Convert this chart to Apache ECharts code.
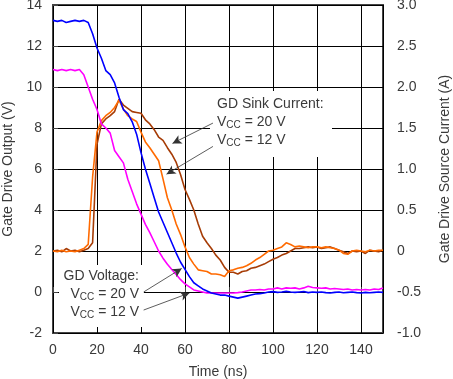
<!DOCTYPE html>
<html>
<head>
<meta charset="utf-8">
<script src="https://cdn.jsdelivr.net/npm/echarts@6/dist/echarts.min.js"></script>
<style>
html,body{margin:0;padding:0;background:#fff;}
#chart{width:453px;height:379px;}
</style>
</head>
<body>
<div id="chart"></div>
<script>
// Time axis (ns), shared by all traces
var timeNs = [0,2,4,6,8,10,12,14,16,18,20,22,24,26,28,30,32,34,36,38,40,42,44,46,48,50,52,54,56,58,60,62,64,66,68,70,72,74,76,78,80,82,84,86,88,90,92,94,96,98,100,102,104,106,108,110,112,114,116,118,120,122,124,126,128,130,132,134,136,138,140,142,144,146,148,150];

// GD Voltage, VCC = 20 V (V, left axis)
var gdV20 = [13.25,13.2,13.25,13.15,13.2,13.25,13.2,13.25,13.15,12.6,11.9,11.4,10.8,10.6,10.2,9.5,8.9,8.7,8.3,7.7,6.8,6.0,5.3,4.6,3.9,3.4,2.9,2.4,1.9,1.45,1.1,0.75,0.45,0.3,0.15,0.05,-0.05,-0.1,-0.15,-0.15,-0.2,-0.25,-0.3,-0.25,-0.2,-0.15,-0.1,-0.08,-0.05,0,0.02,-0.02,0,0.03,0,-0.02,0,0.02,-0.03,0,-0.02,0,-0.03,-0.05,-0.02,0,-0.04,-0.02,0,-0.03,-0.05,-0.02,-0.04,-0.02,0,-0.02];

// GD Voltage, VCC = 12 V (V, left axis)
var gdV12 = [10.85,10.8,10.85,10.8,10.85,10.8,10.85,10.6,10.0,9.4,8.9,8.2,8.0,7.75,6.9,6.6,6.3,5.5,4.9,4.3,3.8,3.3,2.9,2.45,2.0,1.65,1.35,1.1,0.85,0.6,0.4,0.25,0.1,0.05,0,-0.05,-0.05,-0.05,-0.05,-0.05,-0.05,-0.05,-0.03,0,0.05,0.1,0.1,0.12,0.1,0.15,0.15,0.2,0.15,0.2,0.18,0.2,0.15,0.2,0.28,0.22,0.2,0.18,0.2,0.15,0.17,0.15,0.12,0.15,0.1,0.12,0.1,0.12,0.1,0.15,0.12,0.2];

// GD Sink Current, VCC = 20 V (A, right axis)
var sinkI20 = [0,0.01,-0.01,0.03,0,0.01,-0.01,0.01,0.03,0.1,1.3,1.55,1.61,1.65,1.7,1.85,1.78,1.74,1.7,1.69,1.68,1.6,1.55,1.48,1.39,1.35,1.26,1.18,1.08,0.93,0.75,0.63,0.5,0.33,0.18,0.1,0.03,-0.05,-0.11,-0.2,-0.26,-0.26,-0.28,-0.25,-0.24,-0.21,-0.2,-0.18,-0.16,-0.13,-0.1,-0.08,-0.05,-0.03,0,0.03,0.03,0.04,0.05,0.04,0.05,0.03,0.04,0.05,0.03,0.01,-0.01,-0.03,0,-0.01,0,-0.03,0.01,0,-0.01,0.01];

// GD Sink Current, VCC = 12 V (A, right axis)
var sinkI12 = [0,-0.01,0.01,-0.01,0,-0.01,0.01,0.03,0.08,0.9,1.45,1.59,1.65,1.69,1.75,1.84,1.73,1.65,1.61,1.58,1.45,1.33,1.26,1.18,1.1,0.88,0.65,0.5,0.33,0.2,0.05,-0.08,-0.16,-0.23,-0.24,-0.25,-0.28,-0.28,-0.29,-0.31,-0.24,-0.23,-0.21,-0.2,-0.18,-0.15,-0.11,-0.08,-0.04,0,0.01,0.03,0.05,0.1,0.08,0.05,0.06,0.05,0.04,0.05,0.05,0.04,0.05,0.04,0.03,0.01,-0.03,-0.04,0,0.01,0,-0.01,0.01,0,0.01,0.01];

var xTickLabels = ['0','20','40','60','80','100','120','140'];
var leftTickLabels = ['-2','0','2','4','6','8','10','12','14'];
var rightTickLabels = ['-1.0','-0.5','0','0.5','1.0','1.5','2.0','2.5','3.0'];

function pairs(ys){ return timeNs.map(function(t,i){ return [t, ys[i]]; }); }

var FONT = 'Liberation Sans, Arial, sans-serif';
var TXT = '#3a3a3a';

var chart = echarts.init(document.getElementById('chart'), null, {renderer:'canvas'});

var arrowStyle = {color:'#333', width:0.8, type:'solid'};
function arrow(a, b){ return [{coord:a}, {coord:b}]; }

var option = {
  animation: false,
  backgroundColor: '#fff',
  grid: {left:53, right:70, top:5, bottom:46, containLabel:false, outerBoundsMode:'none',
    show:true, borderColor:'#444', borderWidth:2, backgroundColor:'transparent'},
  xAxis: {
    type:'value', min:0, max:150, interval:20,
    name:'Time (ns)', nameLocation:'middle', nameGap:32,
    nameTextStyle:{fontFamily:FONT, fontSize:14, color:TXT},
    axisLine:{show:false},
    axisTick:{show:true, inside:true, length:5, lineStyle:{color:'#444'}},
    axisLabel:{fontFamily:FONT, fontSize:14, color:TXT, margin:10, showMaxLabel:false,
      formatter:function(v){ var i = Math.round(v/20); return (v%20===0 && xTickLabels[i]!==undefined) ? xTickLabels[i] : ''; }},
    splitLine:{show:true, lineStyle:{color:'#000', width:1}}
  },
  yAxis: [
    {
      type:'value', min:-2, max:14, interval:2,
      name:'Gate Drive Output (V)', nameLocation:'middle', nameGap:38,
      nameTextStyle:{fontFamily:FONT, fontSize:14, color:TXT},
      axisLine:{show:false},
      axisTick:{show:true, inside:true, length:5, lineStyle:{color:'#444'}},
      axisLabel:{fontFamily:FONT, fontSize:14, color:TXT, margin:11,
        formatter:function(v){ var i = Math.round((v+2)/2); return leftTickLabels[i] || ''; }},
      splitLine:{show:true, lineStyle:{color:'#000', width:1}}
    },
    {
      type:'value', min:-1, max:3, interval:0.5, position:'right',
      name:'Gate Drive Source Current (A)', nameLocation:'middle', nameGap:55,
      nameTextStyle:{fontFamily:FONT, fontSize:14, color:TXT},
      axisLine:{show:false},
      axisTick:{show:false},
      axisLabel:{fontFamily:FONT, fontSize:14, color:TXT, margin:14,
        formatter:function(v){ var i = Math.round((v+1)/0.5); return rightTickLabels[i] || ''; }},
      splitLine:{show:false}
    }
  ],
  graphic: [
    {type:'rect', z:1, shape:{x:210, y:91, width:122, height:66}, style:{fill:'#fff'}},
    {type:'rect', z:1, shape:{x:59, y:265, width:85, height:62}, style:{fill:'#fff'}},
    {type:'text', z:3, left:217, top:95, style:{
      text:'GD Sink Current:\n{n|V}{s|CC}{n| = 20 V}\n{n|V}{s|CC}{n| = 12 V}',
      font:'14px ' + FONT, fill:TXT, lineHeight:18, align:'left',
      rich:{n:{fontSize:14, fontFamily:FONT, lineHeight:18}, s:{fontSize:10, fontFamily:FONT, lineHeight:18, padding:[7,0,0,0]}}
    }},
    {type:'text', z:3, right:453-139, top:267, style:{
      text:'GD Voltage:\n{n|V}{s|CC}{n| = 20 V}\n{n|V}{s|CC}{n| = 12 V}',
      font:'14px ' + FONT, fill:TXT, lineHeight:18, align:'right',
      rich:{n:{fontSize:14, fontFamily:FONT, lineHeight:18, align:'right'}, s:{fontSize:10, fontFamily:FONT, lineHeight:18, padding:[7,0,0,0], align:'right'}}
    }}
  ],
  series: [
    {type:'line', name:'SinkI20', yAxisIndex:1, data:pairs(sinkI20), showSymbol:false, symbol:'none',
      lineStyle:{color:'#a63c06', width:1.6}, itemStyle:{color:'#a63c06'}, z:2},
    {type:'line', name:'SinkI12', yAxisIndex:1, data:pairs(sinkI12), showSymbol:false, symbol:'none',
      lineStyle:{color:'#ff6a00', width:1.6}, itemStyle:{color:'#ff6a00'}, z:2},
    {type:'line', name:'V12', yAxisIndex:0, data:pairs(gdV12), showSymbol:false, symbol:'none',
      lineStyle:{color:'#ff00ff', width:1.6}, itemStyle:{color:'#ff00ff'}, z:2},
    {type:'line', name:'V20', yAxisIndex:0, data:pairs(gdV20), showSymbol:false, symbol:'none',
      lineStyle:{color:'#0000ff', width:1.6}, itemStyle:{color:'#0000ff'}, z:2,
      markLine:{
        silent:true, symbol:['none','arrow'], symbolSize:[7,9],
        lineStyle:arrowStyle, label:{show:false}, emphasis:{disabled:true},
        data:[
          arrow([72.7, 8.24], [54.3, 7.25]),
          arrow([72.7, 7.1], [51.6, 5.75]),
          arrow([41.2, 0.0], [58.5, 1.15]),
          arrow([41.2, -0.88], [62.0, -0.05])
        ]
      }}
  ]
};
chart.setOption(option);
</script>
</body>
</html>
